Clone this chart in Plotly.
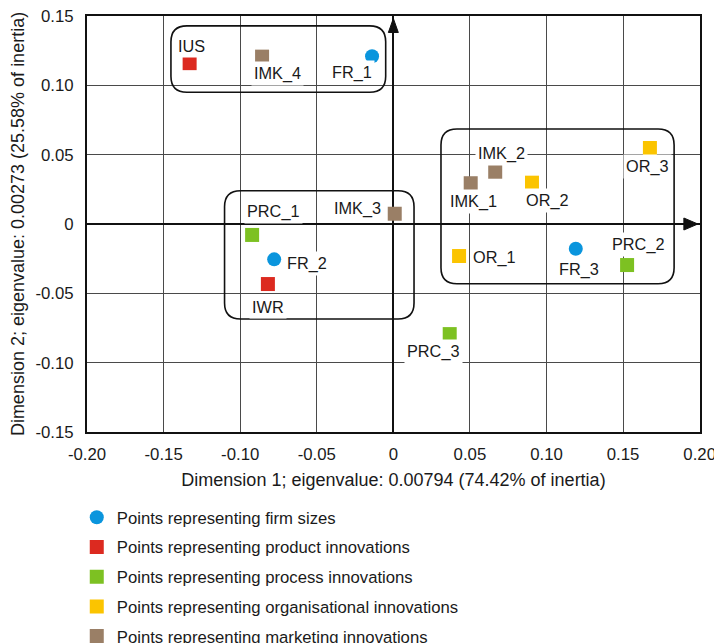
import plotly.graph_objects as go

# Correspondence analysis coordinates (dimension 1, dimension 2)
fr_names = ["FR_1", "FR_2", "FR_3"]
fr_x = [-0.0139, -0.0778, 0.1191]
fr_y = [0.1210, -0.0255, -0.0178]

prod_names = ["IUS", "IWR"]
prod_x = [-0.1330, -0.0819]
prod_y = [0.1160, -0.0433]

proc_names = ["PRC_1", "PRC_2", "PRC_3"]
proc_x = [-0.0922, 0.1526, 0.0368]
proc_y = [-0.0079, -0.0296, -0.0794]

org_names = ["OR_1", "OR_2", "OR_3"]
org_x = [0.0429, 0.0905, 0.1675]
org_y = [-0.0231, 0.0298, 0.0548]

mkt_names = ["IMK_1", "IMK_2", "IMK_3", "IMK_4"]
mkt_x = [0.0505, 0.0665, 0.0009, -0.0857]
mkt_y = [0.0294, 0.0377, 0.0074, 0.1207]

x_ticks = [-0.20, -0.15, -0.10, -0.05, 0, 0.05, 0.10, 0.15, 0.20]
x_tick_text = ["-0.20", "-0.15", "-0.10", "-0.05", "0", "0.05", "0.10", "0.15", "0.20"]
y_ticks = [-0.15, -0.10, -0.05, 0, 0.05, 0.10, 0.15]
y_tick_text = ["-0.15", "-0.10", "-0.05", "0", "0.05", "0.10", "0.15"]

FONT = "Liberation Sans, Arial, sans-serif"
TXT = "#1a1a1a"

groups = [
    ("Points representing firm sizes", fr_names, fr_x, fr_y, "#0a95dd", "circle"),
    ("Points representing product innovations", prod_names, prod_x, prod_y, "#dc2a20", "square"),
    ("Points representing process innovations", proc_names, proc_x, proc_y, "#7dc122", "square"),
    ("Points representing organisational innovations", org_names, org_x, org_y, "#fbc400", "square"),
    ("Points representing marketing innovations", mkt_names, mkt_x, mkt_y, "#9a7f66", "square"),
]

# label placement relative to each marker, in pixels (dx right, dy up)
LABEL_OFFSETS = {
    "IUS": (2, 17), "IMK_4": (15, -17), "FR_1": (-20, -16),
    "IMK_2": (6, 18), "IMK_1": (3, -18), "OR_2": (16, -18), "OR_3": (-2, -18),
    "IMK_3": (-37, 5), "PRC_1": (21, 23), "FR_2": (33, -4), "IWR": (0, -23),
    "OR_1": (35, -1), "FR_3": (3, -21), "PRC_2": (11, 21), "PRC_3": (-16, -17),
}

fig = go.Figure()
annotations = []
for i, (name, labels, xs, ys, color, symbol) in enumerate(groups):
    fig.add_trace(go.Scatter(
        x=xs, y=ys, mode="markers", name=name, legendgroup=f"g{i}",
        marker=dict(color=color, symbol=symbol, size=14, line=dict(width=0)),
        hoverinfo="text", text=labels,
    ))
    for lab, xv, yv in zip(labels, xs, ys):
        dx, dy = LABEL_OFFSETS[lab]
        annotations.append(dict(
            x=xv, y=yv, text=lab, showarrow=False, xshift=dx, yshift=dy,
            font=dict(family=FONT, size=16.3, color=TXT),
            bgcolor="white", borderpad=2,
        ))

# pixel scale of the data axes, used for rounded corners and arrowheads
PX_X = 613 / 0.40
PX_Y = 416 / 0.30


def rounded_box(x0, x1, y0, y1, r=16):
    rx, ry = r / PX_X, r / PX_Y
    return (f"M {x0 + rx},{y1} L {x1 - rx},{y1} Q {x1},{y1} {x1},{y1 - ry} "
            f"L {x1},{y0 + ry} Q {x1},{y0} {x1 - rx},{y0} "
            f"L {x0 + rx},{y0} Q {x0},{y0} {x0},{y0 + ry} "
            f"L {x0},{y1 - ry} Q {x0},{y1} {x0 + rx},{y1} Z")


cluster_boxes = [
    (-0.1452, -0.0050, 0.0950, 0.1429),
    (-0.1102, 0.0135, -0.0685, 0.0240),
    (0.0311, 0.1833, -0.0431, 0.0685),
]
shapes = [
    dict(type="path", path=rounded_box(*b), line=dict(color="#111", width=1.6),
         fillcolor="rgba(0,0,0,0)", layer="above")
    for b in cluster_boxes
]

# arrowheads on the axes through the origin
tip_y = 0.1482
shapes.append(dict(
    type="path", layer="above", fillcolor="#111", line=dict(color="#111", width=1),
    path=f"M 0,{tip_y} L {-5 / PX_X},{tip_y - 14 / PX_Y} L {5 / PX_X},{tip_y - 14 / PX_Y} Z",
))
tip_x = 0.1988
shapes.append(dict(
    type="path", layer="above", fillcolor="#111", line=dict(color="#111", width=1),
    path=f"M {tip_x},0 L {tip_x - 14 / PX_X},{6 / PX_Y} L {tip_x - 14 / PX_X},{-6 / PX_Y} Z",
))

axis_common = dict(
    showgrid=True, gridcolor="#4a4a4a", gridwidth=1,
    zeroline=True, zerolinecolor="#111", zerolinewidth=2,
    showline=True, linecolor="#111", linewidth=2, mirror=True,
    ticks="", tickfont=dict(family=FONT, size=16.8, color=TXT),
    ticklabeloverflow="allow",
)

fig.update_layout(
    width=714, height=643,
    margin=dict(l=87, r=14, t=16, b=211, autoexpand=False),
    paper_bgcolor="white", plot_bgcolor="white",
    font=dict(family=FONT, size=16, color=TXT),
    xaxis=dict(
        range=[-0.20, 0.2002], tickvals=x_ticks, ticktext=x_tick_text,
        ticklabelstandoff=6,
        title=dict(text="Dimension 1; eigenvalue: 0.00794 (74.42% of inertia)",
                   font=dict(family=FONT, size=18, color=TXT), standoff=10),
        **axis_common,
    ),
    yaxis=dict(
        range=[-0.15, 0.15], tickvals=y_ticks, ticktext=y_tick_text,
        ticklabelstandoff=8,
        title=dict(text="Dimension 2; eigenvalue: 0.00273 (25.58% of inertia)",
                   font=dict(family=FONT, size=18, color=TXT), standoff=6),
        **axis_common,
    ),
    showlegend=True,
    legend=dict(
        x=-0.0167, y=-0.1632, xanchor="left", yanchor="top",
        font=dict(family=FONT, size=16.7, color=TXT),
        tracegroupgap=5, bgcolor="rgba(0,0,0,0)",
    ),
    annotations=annotations,
    shapes=shapes,
)

fig.write_html("out.html")
